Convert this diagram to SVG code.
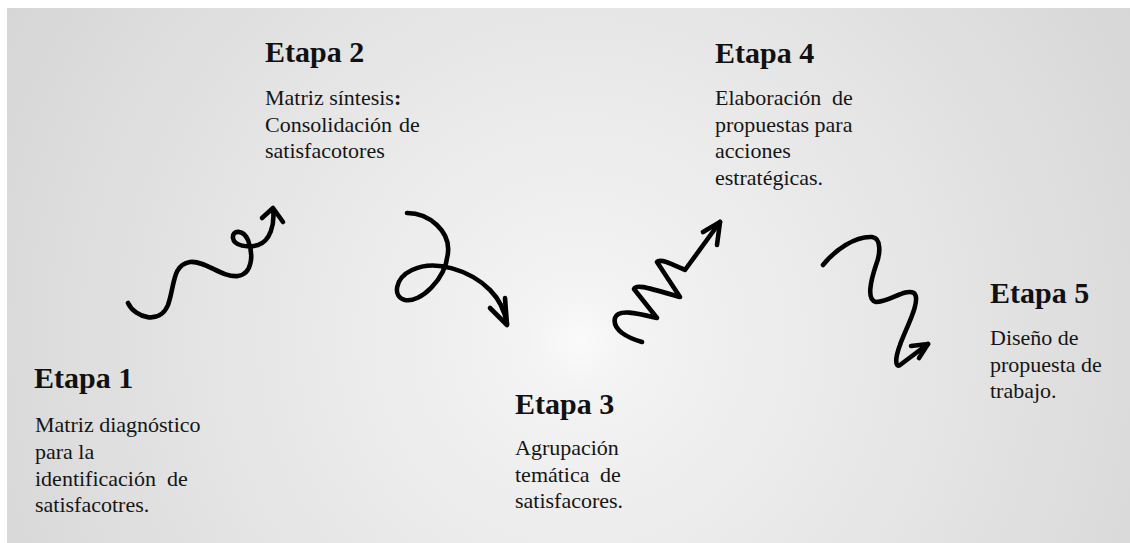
<svg xmlns="http://www.w3.org/2000/svg" width="1130" height="543" viewBox="0 0 1130 543">
<style>
.h{font-family:"Liberation Serif","Times New Roman",serif;font-weight:700;font-size:30px;fill:#111}
.b{font-family:"Liberation Serif","Times New Roman",serif;font-weight:400;font-size:22px;fill:#151515}
.s{fill:none;stroke:#000;stroke-width:4.6;stroke-linecap:round;stroke-linejoin:round}
</style>
<defs>
<radialGradient id="bg" gradientUnits="userSpaceOnUse" cx="580" cy="340" r="680">
<stop offset="0" stop-color="#fafafa"/>
<stop offset="0.08" stop-color="#f3f3f3"/>
<stop offset="0.5" stop-color="#e6e6e6"/>
<stop offset="1" stop-color="#d5d5d5"/>
</radialGradient>
</defs>
<rect width="1130" height="543" fill="#fff"/>
<rect x="7" y="8" width="1123" height="535" fill="url(#bg)"/>
<g id="etapa1">
<text class="h" x="34" y="388">Etapa 1</text>
<text class="b" x="35" y="432">Matriz diagnóstico</text>
<text class="b" x="35" y="459">para la</text>
<text class="b" y="486"><tspan x="35">identificación</tspan><tspan x="167">de</tspan></text>
<text class="b" x="35" y="512">satisfacotres.</text>
</g>
<g id="etapa2">
<text class="h" x="265" y="62">Etapa 2</text>
<text class="b" x="265" y="105">Matriz síntesis<tspan font-weight="bold">:</tspan></text>
<text class="b" y="131.5"><tspan x="265">Consolidación</tspan><tspan x="399">de</tspan></text>
<text class="b" x="265" y="158">satisfacotores</text>
</g>
<g id="etapa3">
<text class="h" x="515" y="414">Etapa 3</text>
<text class="b" x="515" y="455">Agrupación</text>
<text class="b" y="481.5"><tspan x="515">temática</tspan><tspan x="600">de</tspan></text>
<text class="b" x="515" y="508">satisfacores.</text>
</g>
<g id="etapa4">
<text class="h" x="715" y="63">Etapa 4</text>
<text class="b" y="105"><tspan x="715">Elaboración</tspan><tspan x="832">de</tspan></text>
<text class="b" x="715" y="131.5">propuestas para</text>
<text class="b" x="715" y="158">acciones</text>
<text class="b" x="715" y="185">estratégicas.</text>
</g>
<g id="etapa5">
<text class="h" x="990" y="303">Etapa 5</text>
<text class="b" x="990" y="345">Diseño de</text>
<text class="b" x="990" y="371.5">propuesta de</text>
<text class="b" x="990" y="398">trabajo.</text>
</g>
<g id="connectors">
<path class="s" d="M128,303 C135,318 160,325 168,305 C175,285 172,265 190,262 C205,260 222,278 238,276 C252,274 254,255 248,240 C243,229 232,230 233,238 C234,246 248,248 258,245 C270,241 275,225 273,209"/>
<path class="s" d="M262,218 L273,208 L283,222"/>
<path class="s" d="M407,213 C430,213 450,232 448,252 C446,280 420,303 405,300 C392,297 395,278 412,270 C435,259 470,270 490,290 C500,300 505,312 507,324"/>
<path class="s" d="M490,308 L507,325 L505,298"/>
<path class="s" d="M642,342 C628,338 612,330 615,318 C618,308 640,314 657,318 L634,289 C636,284 645,287 680,297 L657,262 C660,258 672,264 685,270 L720,222"/>
<path class="s" d="M703,232 L720,222 L717,245"/>
<path class="s" d="M823,265 C835,250 855,236 872,237 C882,238 880,255 876,265 C871,280 866,300 876,302 C890,302 905,288 914,293 C922,300 905,330 900,345 C895,358 895,368 900,365 L928,344"/>
<path class="s" d="M911,346 L928,344 L919,358"/>
</g>
</svg>
